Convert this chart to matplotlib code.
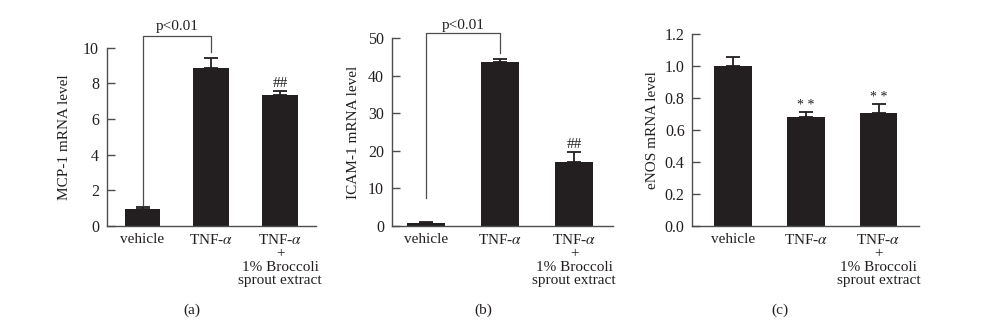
import matplotlib
matplotlib.use("Agg")
from matplotlib import pyplot as plt

plt.rcParams['font.family'] = ['Liberation Serif', 'DejaVu Serif']
plt.rcParams['mathtext.fontset'] = 'stix'

# data
groups = ['vehicle', 'TNF-$\\alpha$', 'TNF-$\\alpha$\n+\n1% Broccoli\nsprout extract']

mcp1_mean = [0.97, 8.88, 7.36]
mcp1_err = [0.08, 0.52, 0.19]

icam1_mean = [0.7, 43.8, 17.1]
icam1_err = [0.45, 0.7, 2.7]

enos_mean = [1.0, 0.68, 0.705]
enos_err = [0.06, 0.035, 0.058]

ylabels = ['MCP-1 mRNA level', 'ICAM-1 mRNA level', 'eNOS mRNA level']
panel_names = ['(a)', '(b)', '(c)']

bar_color = '#231f20'
axis_color = '#4d4d4d'
text_color = '#231f20'
fs = 11

W, H = 983, 329
fig = plt.figure(figsize=(W / 100, H / 100), dpi=100)


def make_axes(left_px, right_px, top_px, bottom_px=226):
    return fig.add_axes([left_px / W, 1 - bottom_px / H,
                         (right_px - left_px) / W, (bottom_px - top_px) / H])


def draw_panel(ax, means, errs, ylim, yticks, ylabel, xlim, label_x, fmt):
    x = range(len(means))
    ax.bar(x, means, width=0.52, color=bar_color, zorder=2)
    ax.errorbar(x, means, yerr=[[0] * len(errs), errs], fmt='none',
                ecolor=bar_color, elinewidth=1.3, capsize=4.8,
                capthick=1.3, zorder=1)
    ax.set_xlim(*xlim)
    ax.set_ylim(*ylim)
    ax.set_yticks(yticks)
    ax.set_yticklabels([fmt.format(t) for t in yticks])
    ax.set_xticks(list(x))
    ax.set_xticklabels(groups, linespacing=1.05)
    for s in ['top', 'right']:
        ax.spines[s].set_visible(False)
    for s in ['left', 'bottom']:
        ax.spines[s].set_color(axis_color)
        ax.spines[s].set_linewidth(1.0)
    ax.tick_params(axis='y', direction='in', length=6, width=1.0,
                   color=axis_color, labelsize=11.5, labelcolor=text_color, pad=5.5)
    ax.tick_params(axis='x', length=0, labelsize=fs, labelcolor=text_color, pad=5)
    ax.set_ylabel(ylabel, fontsize=fs, color=text_color, va='center')
    ax.yaxis.set_label_coords(label_x, 0.5)


# (a) MCP-1
ax1 = make_axes(106.7, 316, 47.7)
draw_panel(ax1, mcp1_mean, mcp1_err, (0, 10), [0, 2, 4, 6, 8, 10],
           ylabels[0], (-0.52, 2.52), -0.2, '{:g}')

# (b) ICAM-1
ax2 = make_axes(391.7, 612.7, 38.3)
draw_panel(ax2, icam1_mean, icam1_err, (0, 50), [0, 10, 20, 30, 40, 50],
           ylabels[1], (-0.46, 2.52), -0.175, '{:g}')

# (c) eNOS
ax3 = make_axes(692.3, 919.3, 34.3)
draw_panel(ax3, enos_mean, enos_err, (0, 1.2), [0, 0.2, 0.4, 0.6, 0.8, 1.0, 1.2],
           ylabels[2], (-0.56, 2.56), -0.175, '{:.1f}')

# significance brackets
ax1.plot([0, 0, 1, 1], [1.18, 10.67, 10.67, 9.76], color=axis_color, lw=0.9, clip_on=False)
ax1.text(0.5, 10.8, 'p<0.01', ha='center', va='bottom', fontsize=fs, color=text_color)
ax1.text(2, 7.6, '##', ha='center', va='bottom', fontsize=11, color=text_color)

ax2.plot([0, 0, 1, 1], [7.4, 51.4, 51.4, 46.2], color=axis_color, lw=0.9, clip_on=False)
ax2.text(0.5, 51.8, 'p<0.01', ha='center', va='bottom', fontsize=fs, color=text_color)
ax2.text(2, 20.0, '##', ha='center', va='bottom', fontsize=11, color=text_color)

ax3.text(1, 0.712, '* *', ha='center', va='bottom', fontsize=10, color=text_color)
ax3.text(2, 0.762, '* *', ha='center', va='bottom', fontsize=10, color=text_color)

for name, xc in zip(panel_names, [192, 483, 780]):
    fig.text(xc / W, 1 - 310 / H, name, ha='center', va='center',
             fontsize=fs, color=text_color)

fig.savefig('out.png', dpi=100)
